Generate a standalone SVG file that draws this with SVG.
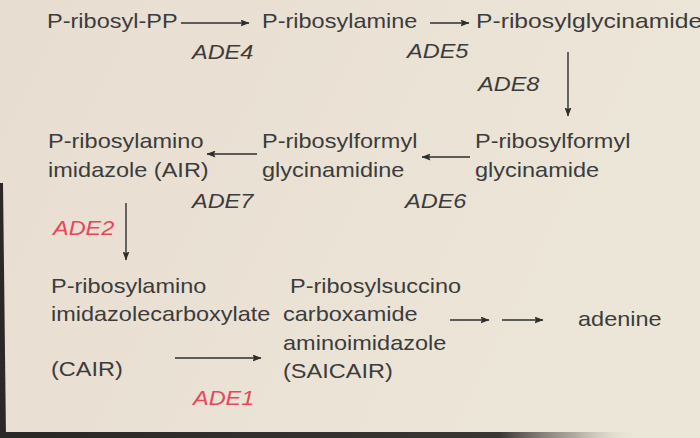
<svg xmlns="http://www.w3.org/2000/svg" width="700" height="438" viewBox="0 0 700 438">
<defs>
<linearGradient id="bg" x1="0" y1="0" x2="1" y2="0.3">
<stop offset="0" stop-color="#e8ddd1"/>
<stop offset="1" stop-color="#ece6d8"/>
</linearGradient>
<linearGradient id="bot" x1="0" y1="0" x2="1" y2="0">
<stop offset="0" stop-color="#2a2727"/>
<stop offset="0.78" stop-color="#3a3634"/>
<stop offset="0.9" stop-color="#8a847c" stop-opacity="0.6"/>
<stop offset="1" stop-color="#ece6d8" stop-opacity="0"/>
</linearGradient>
<marker id="ah" markerUnits="userSpaceOnUse" markerWidth="9" markerHeight="7" refX="8.5" refY="3.5" orient="auto">
<path d="M0,0 L9,3.5 L0,7 L1.5,3.5 z" fill="#2e2e2e"/>
</marker>
<style>
text{font-family:"Liberation Sans",Arial,sans-serif;font-size:21px;fill:#3c3c3c}
.e{font-style:italic}
.r{fill:#e5485d}
.c line{stroke:#2e2e2e;stroke-width:1.4;marker-end:url(#ah)}
</style>
</defs>
<rect width="700" height="438" fill="url(#bg)"/>
<path d="M0,183 L3,183 L6,438 L0,438 z" fill="#2c2828"/>
<rect x="0" y="432" width="640" height="6" fill="url(#bot)"/>
<g id="n1" transform="scale(1.12 1)"><text x="42" y="28">P-ribosyl-PP</text></g>
<g id="n2" transform="scale(1.12 1)"><text x="233.9" y="28">P-ribosylamine</text></g>
<g id="n3" transform="scale(1.12 1)"><text x="425" y="28" textLength="202" lengthAdjust="spacingAndGlyphs">P-ribosylglycinamide</text></g>
<g id="n4" transform="scale(1.12 1)"><text x="424.1" y="148">P-ribosylformyl</text><text x="424.1" y="177">glycinamide</text></g>
<g id="n5" transform="scale(1.12 1)"><text x="233.9" y="148">P-ribosylformyl</text><text x="233.9" y="177">glycinamidine</text></g>
<g id="n6" transform="scale(1.12 1)"><text x="42.9" y="148">P-ribosylamino</text><text x="42.9" y="177">imidazole (AIR)</text></g>
<g id="n7" transform="scale(1.12 1)"><text x="45.5" y="293">P-ribosylamino</text><text x="45.5" y="321">imidazolecarboxylate</text><text x="45.5" y="376">(CAIR)</text></g>
<g id="n8" transform="scale(1.12 1)"><text x="258.9" y="293">P-ribosylsuccino</text><text x="252.7" y="321">carboxamide</text><text x="252.7" y="350">aminoimidazole</text><text x="252.7" y="378">(SAICAIR)</text></g>
<g id="n9" transform="scale(1.12 1)"><text x="516.1" y="326">adenine</text></g>
<g id="labels" transform="scale(1.12 1)">
<text class="e" x="171.4" y="59">ADE4</text>
<text class="e" x="363.4" y="58">ADE5</text>
<text class="e" x="426.8" y="91">ADE8</text>
<text class="e" x="171.4" y="208">ADE7</text>
<text class="e" x="361.6" y="208">ADE6</text>
<text class="e r" x="47.3" y="235">ADE2</text>
<text class="e r" x="172.3" y="405">ADE1</text>
</g>
<g id="connectors" class="c">
<line x1="181" y1="23" x2="249" y2="23"/>
<line x1="430" y1="23" x2="469" y2="23"/>
<line x1="568" y1="52" x2="568" y2="116"/>
<line x1="257" y1="154" x2="207" y2="154"/>
<line x1="470" y1="157" x2="422" y2="157"/>
<line x1="126" y1="203" x2="126" y2="260"/>
<line x1="175" y1="358" x2="261" y2="358"/>
<line x1="450" y1="320" x2="489" y2="320"/>
<line x1="502" y1="320" x2="543" y2="320"/>
</g>
</svg>
